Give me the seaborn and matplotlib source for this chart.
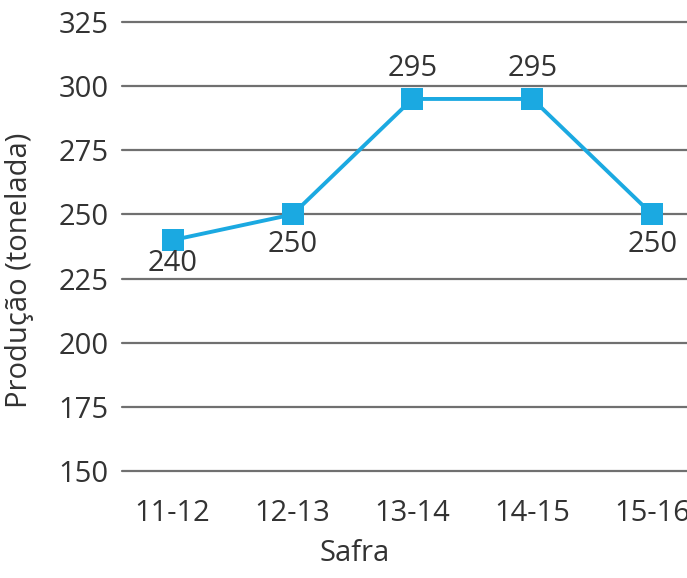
import matplotlib
matplotlib.use("Agg")
import matplotlib.pyplot as plt
import seaborn as sns
import pandas as pd

# data
safras = ["11-12", "12-13", "13-14", "14-15", "15-16"]
producao = [240, 250, 295, 295, 250]
y_ticks = [150, 175, 200, 225, 250, 275, 300, 325]

# vertical offset (points) of each value label from its marker
label_offsets = [-17, -22, 22, 22, -22]

df = pd.DataFrame({"Safra": safras, "Producao": producao})

sns.set_style("white")
plt.rcParams["font.family"] = ["Open Sans", "DejaVu Sans"]

text_color = "#333333"
line_color = "#1BA9E1"
fs = 21

fig = plt.figure(figsize=(6.87, 5.78), dpi=100)
ax = fig.add_axes([0.178, 0.185, 0.822, 0.777])

# horizontal grid lines
for t in y_ticks:
    ax.axhline(t, color="#707070", linewidth=1.6, zorder=1, clip_on=False)

sns.lineplot(data=df, x="Safra", y="Producao", ax=ax, color=line_color,
             linewidth=2.8, marker="s", markersize=16.5, markeredgewidth=0,
             zorder=3, sort=False, clip_on=False)

for i, (v, dy) in enumerate(zip(producao, label_offsets)):
    ax.annotate(str(v), (i, v), xytext=(0, dy), textcoords="offset points",
                ha="center", va="center", fontsize=fs, color=text_color)

ax.set_ylim(150, 325)
ax.set_xlim(-0.42, 4.29)
ax.set_yticks(y_ticks)
ax.tick_params(axis="both", length=0, labelsize=fs, colors=text_color)
ax.tick_params(axis="y", pad=10)
ax.tick_params(axis="x", pad=20)

for s in ax.spines.values():
    s.set_visible(False)

ax.set_ylabel("Produção (tonelada)", fontsize=fs, color=text_color)
ax.set_xlabel("Safra", fontsize=fs, color=text_color)
ax.yaxis.set_label_coords(-0.157, 0.448)
ax.xaxis.set_label_coords(0.412, -0.152)

fig.savefig("out.png", dpi=100)
